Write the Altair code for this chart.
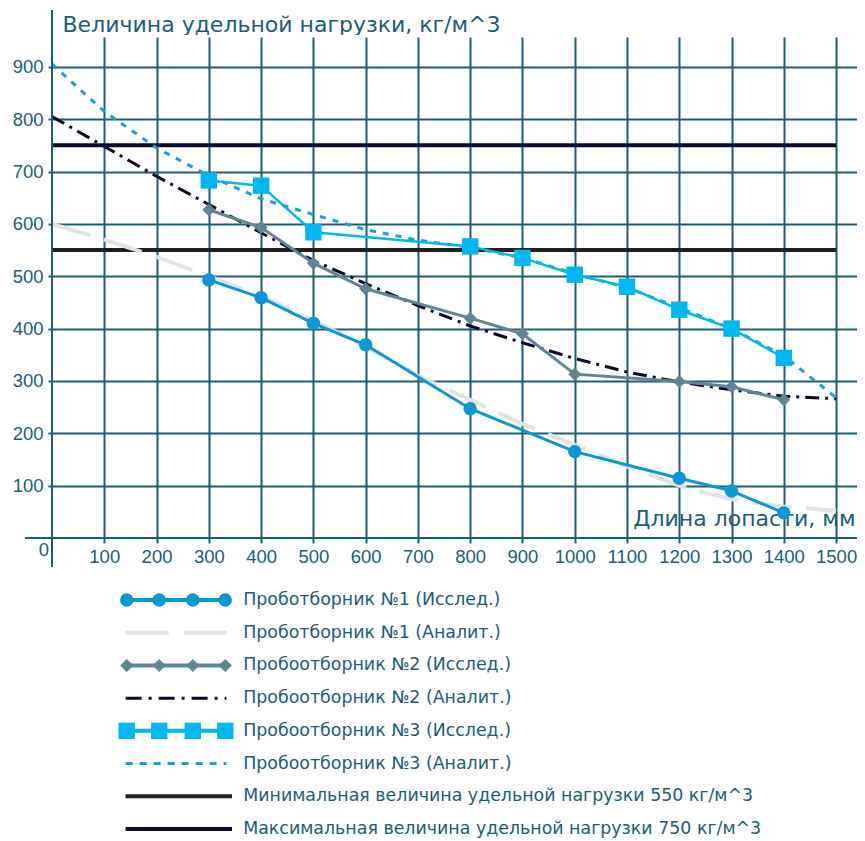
import altair as alt
import pandas as pd

# ---------------- data ----------------
x_exp1 = [300, 400, 500, 600, 800, 1000, 1200, 1300, 1400]
y_exp1 = [493, 459, 410, 369, 247, 165, 114, 90, 48]

x_exp2 = [300, 400, 500, 600, 800, 900, 1000, 1200, 1300, 1400]
y_exp2 = [627, 593, 525, 476, 420, 390, 313, 299, 289, 264]

x_exp3 = [300, 400, 500, 800, 900, 1000, 1100, 1200, 1300, 1400]
y_exp3 = [683, 673, 584, 557, 535, 503, 480, 436, 400, 344]

x_an = [0, 100, 200, 300, 400, 500, 600, 700, 800, 900, 1000, 1100, 1200, 1300, 1400, 1500]
y_an1 = [600, 570, 537, 500, 462, 416, 366, 310, 264, 218, 178, 137, 100, 74, 60, 52]
y_an2 = [805, 748, 691, 637, 583, 530, 486, 444, 405, 373, 343, 317, 298, 283, 271, 266]
y_an3 = [905, 815, 745, 692, 648, 618, 589, 569, 555, 535, 505, 478, 440, 400, 348, 268]

limit_x = [0, 1500]
limit_min = 550
limit_max = 750

x_ticks = list(range(100, 1600, 100))
y_ticks = list(range(100, 1000, 100))

legend_labels = [
    "Проботборник №1 (Исслед.)",
    "Проботборник №1 (Аналит.)",
    "Пробоотборник №2 (Исслед.)",
    "Пробоотборник №2 (Аналит.)",
    "Пробоотборник №3 (Исслед.)",
    "Пробоотборник №3 (Аналит.)",
    "Минимальная величина удельной нагрузки 550 кг/м^3",
    "Максимальная величина удельной нагрузки 750 кг/м^3",
]

x_title = "Длина лопасти, мм"
y_title = "Величина удельной нагрузки, кг/м^3"

# ---------------- style ----------------
FONT = "Liberation Sans"
TFONT = "DejaVu Sans"
TEAL = "#1a5d75"
C1 = "#0898d6"
C1A = "#e2e2e2"
C2 = "#5f8595"
C2A = "#0a0a28"
C3 = "#00b8ee"
C3A = "#14a0dc"
CMIN = "#231f20"
CMAX = "#0b0b2e"

W, H = 805, 501
xs = alt.Scale(domain=[0, 1540], nice=False, zero=False)
ys = alt.Scale(domain=[0, 957], nice=False, zero=False)

x_axis = alt.Axis(values=x_ticks, grid=True, gridColor=TEAL, gridWidth=2, gridOpacity=1,
                  ticks=True, labels=True,
                  tickColor=TEAL, tickWidth=2, tickSize=5, domain=False,
                  labelFont=FONT, labelFontSize=18.5, labelColor=TEAL, labelPadding=4,
                  labelOverlap=False, format="d",
                  title=x_title, titleFont=TFONT, titleFontSize=22, titleFontWeight="normal",
                  titleColor=TEAL, titleAlign="right", titleBaseline="alphabetic",
                  titleX=W - 2, titleY=-13, titleAngle=0)
y_axis = alt.Axis(values=y_ticks, grid=True, gridColor=TEAL, gridWidth=2, gridOpacity=1,
                  ticks=True, labels=True,
                  tickColor=TEAL, tickWidth=2, tickSize=4, domain=False,
                  labelFont=FONT, labelFontSize=18.5, labelColor=TEAL, labelPadding=5,
                  format="d",
                  title=y_title, titleFont=TFONT, titleFontSize=22, titleFontWeight="normal",
                  titleColor=TEAL, titleAlign="left", titleBaseline="alphabetic",
                  titleX=10, titleY=-6, titleAngle=0)

def X(field="x"):
    return alt.X(f"{field}:Q", scale=xs, axis=x_axis)

def Y(field="y"):
    return alt.Y(f"{field}:Q", scale=ys, axis=y_axis)

df_e1 = pd.DataFrame({"x": x_exp1, "y": y_exp1})
df_e2 = pd.DataFrame({"x": x_exp2, "y": y_exp2})
df_e3 = pd.DataFrame({"x": x_exp3, "y": y_exp3})
df_a1 = pd.DataFrame({"x": x_an, "y": y_an1})
df_a2 = pd.DataFrame({"x": x_an, "y": y_an2})
df_a3 = pd.DataFrame({"x": x_an, "y": y_an3})
df_min = pd.DataFrame({"x": limit_x, "y": [limit_min] * 2})
df_max = pd.DataFrame({"x": limit_x, "y": [limit_max] * 2})

lim_min = alt.Chart(df_min).mark_line(color=CMIN, strokeWidth=4).encode(X(), Y())
lim_max = alt.Chart(df_max).mark_line(color=CMAX, strokeWidth=4).encode(X(), Y())

an1 = alt.Chart(df_a1).mark_line(color=C1A, strokeWidth=4, strokeDash=[40, 14]).encode(X(), Y())
an2 = alt.Chart(df_a2).mark_line(color=C2A, strokeWidth=3, strokeDash=[14, 6, 3, 6]).encode(X(), Y())
an3 = alt.Chart(df_a3).mark_line(color=C3A, strokeWidth=3, strokeDash=[6, 7]).encode(X(), Y())

e1l = alt.Chart(df_e1).mark_line(color=C1, strokeWidth=3).encode(X(), Y())
e1p = alt.Chart(df_e1).mark_point(shape="circle", filled=True, opacity=1, color=C1, size=180).encode(X(), Y())
e2l = alt.Chart(df_e2).mark_line(color=C2, strokeWidth=3).encode(X(), Y())
e2p = alt.Chart(df_e2).mark_point(shape="diamond", filled=True, opacity=1, color=C2, size=170).encode(X(), Y())
e3l = alt.Chart(df_e3).mark_line(color=C3, strokeWidth=2.5).encode(X(), Y())
e3p = alt.Chart(df_e3).mark_point(shape="square", filled=True, opacity=1, color=C3, size=270).encode(X(), Y())

# axis lines (extended like in the original), a white cover for the plot's top edge, origin label
df_origin = pd.DataFrame({"x": [0], "y": [0], "t": ["0"]})
top_cover = alt.Chart(df_origin).mark_rule(color="white", strokeWidth=2).encode(
    x=alt.value(2), x2=alt.value(W), y=alt.value(-1))
y_axis_line = alt.Chart(df_origin).mark_rule(color=TEAL, strokeWidth=2).encode(
    x=X(), y=alt.value(-27), y2=alt.value(530))
x_axis_line = alt.Chart(df_origin).mark_rule(color=TEAL, strokeWidth=2).encode(
    y=Y(), x=alt.value(-27), x2=alt.value(W))
zero_lbl = alt.Chart(df_origin).mark_text(
    font=FONT, fontSize=18.5, color=TEAL, dx=-8, dy=12
).encode(X(), Y(), text="t:N")

main = alt.layer(lim_min, lim_max, an1, an2, an3,
                 e1l, e2l, e3l, e1p, e2p, e3p,
                 top_cover, y_axis_line, x_axis_line, zero_lbl)

# ---------------- legend ----------------
lxs = alt.Scale(domain=[0, 1], range=[68, 180], nice=False, zero=False)
lys = alt.Scale(domain=[0, 7], range=[563, 792], nice=False, zero=False)
mk_pos = [0.06, 0.35, 0.65, 0.94]
dash_pos = [0.05, 0.95]
solid_pos = [0.05, 1.0]

def LX():
    return alt.X("lx:Q", scale=lxs, axis=None)

def LY():
    return alt.Y("row:Q", scale=lys, axis=None)

def ldf(pos, row):
    return pd.DataFrame({"lx": pos, "row": [row] * len(pos)})

leg_layers = [
    alt.Chart(ldf(mk_pos, 0)).mark_line(color=C1, strokeWidth=4).encode(LX(), LY()),
    alt.Chart(ldf(mk_pos, 0)).mark_point(shape="circle", filled=True, opacity=1, color=C1, size=180).encode(LX(), LY()),
    alt.Chart(ldf(dash_pos, 1)).mark_line(color=C1A, strokeWidth=4, strokeDash=[43, 15]).encode(LX(), LY()),
    alt.Chart(ldf(mk_pos, 2)).mark_line(color=C2, strokeWidth=4).encode(LX(), LY()),
    alt.Chart(ldf(mk_pos, 2)).mark_point(shape="diamond", filled=True, opacity=1, color=C2, size=170).encode(LX(), LY()),
    alt.Chart(ldf(dash_pos, 3)).mark_line(color=C2A, strokeWidth=3, strokeDash=[16, 7, 3, 7]).encode(LX(), LY()),
    alt.Chart(ldf(mk_pos, 4)).mark_line(color=C3, strokeWidth=4).encode(LX(), LY()),
    alt.Chart(ldf(mk_pos, 4)).mark_point(shape="square", filled=True, opacity=1, color=C3, size=270).encode(LX(), LY()),
    alt.Chart(ldf(dash_pos, 5)).mark_line(color=C3A, strokeWidth=3, strokeDash=[7, 7]).encode(LX(), LY()),
    alt.Chart(ldf(solid_pos, 6)).mark_line(color=CMIN, strokeWidth=4).encode(LX(), LY()),
    alt.Chart(ldf(solid_pos, 7)).mark_line(color=CMAX, strokeWidth=4).encode(LX(), LY()),
]
df_leg_text = pd.DataFrame({"lx": [1.1] * len(legend_labels), "row": list(range(len(legend_labels))),
                            "label": legend_labels})
leg_text = alt.Chart(df_leg_text).mark_text(
    font=TFONT, fontSize=17.4, color=TEAL, align="left", baseline="middle"
).encode(LX(), LY(), text="label:N")

legend = alt.layer(*leg_layers, leg_text)

chart = alt.layer(main, legend).resolve_scale(x="independent", y="independent").properties(
    width=W, height=H,
    background="white",
    autosize=alt.AutoSizeParams(type="none"),
    padding={"left": 44, "top": 29, "right": 0, "bottom": 303},
    view=alt.ViewBackground(stroke="transparent", strokeOpacity=0, strokeWidth=0),
).configure_view(stroke="transparent", strokeOpacity=0, strokeWidth=0).configure_axis(
    domain=False, grid=False
)

chart.save("out.html", embed_options={"renderer": "svg", "actions": False})
